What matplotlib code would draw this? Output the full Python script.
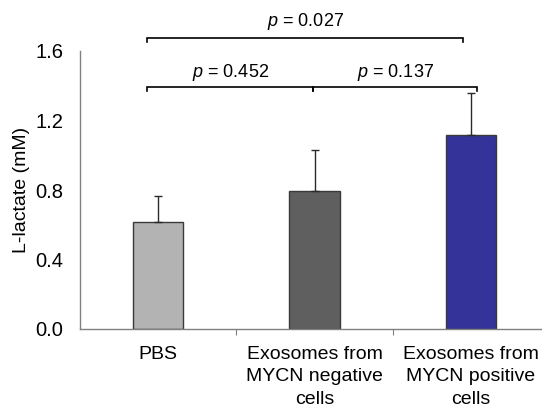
import matplotlib
matplotlib.use("Agg")
import matplotlib.pyplot as plt

plt.rcParams['font.family'] = ['Liberation Sans', 'DejaVu Sans']
plt.rcParams['mathtext.fontset'] = 'custom'
plt.rcParams['mathtext.it'] = 'Liberation Sans:italic'
plt.rcParams['mathtext.rm'] = 'Liberation Sans'

categories = ["PBS", "Exosomes from\nMYCN negative\ncells", "Exosomes from\nMYCN positive\ncells"]
values = [0.617, 0.796, 1.114]
errors = [0.150, 0.234, 0.243]
colors = ["#b3b3b3", "#5f5f5f", "#333399"]
yticks = [0.0, 0.4, 0.8, 1.2, 1.6]
comparisons = [(0, 2, "0.027"), (0, 1, "0.452"), (1, 2, "0.137")]

fig = plt.figure(figsize=(5.42, 4.07), dpi=100)
ax = fig.add_axes([80/542, 1-329/407, 1-80/542, (329-51)/407])

x = list(range(len(categories)))
ax.bar(x, values, width=0.32, color=colors, edgecolor="#3a3a3a", linewidth=1.0, zorder=2)
ax.errorbar(x, values, yerr=[[0]*3, errors], fmt="none", ecolor="#2a2a2a",
            elinewidth=1.0, capsize=3, capthick=1.0, zorder=3)

ax.set_xlim(-0.5, (542-159)/156)
ax.set_ylim(0, 1.6)
ax.set_yticks(yticks)
ax.set_yticklabels([f"{v:.1f}" for v in yticks], fontsize=14.5)
ax.tick_params(axis='y', length=0, pad=12)
ax.set_xticks([0.5, 1.5])
ax.set_xticklabels([])
ax.tick_params(axis='x', length=4, color="#808080", direction='out')
for i, c in enumerate(categories):
    ax.text(i, -0.095, c, ha='center', va='top', fontsize=14, linespacing=1.45,
            transform=ax.transData)

for s in ['top', 'right']:
    ax.spines[s].set_visible(False)
for s in ['left', 'bottom']:
    ax.spines[s].set_color("#808080")
    ax.spines[s].set_linewidth(1.0)
ax.set_ylabel("L-lactate (mM)", fontsize=14, labelpad=4)

# brackets
tick = 0.022
def bracket(x0, x1, y, label, ty):
    ax.plot([x0, x0, x1, x1], [y - tick, y, y, y - tick], color="black", lw=1.2,
            clip_on=False, solid_joinstyle='miter')
    ax.text((x0 + x1) / 2, ty, f"$p$ = {label}", ha='center', va='center', fontsize=13)

bracket(-0.07, 1.95, 1.675, comparisons[0][2], 1.77)
bracket(-0.07, 0.99, 1.391, comparisons[1][2], 1.475)
bracket(0.99, 2.04, 1.391, comparisons[2][2], 1.475)

fig.savefig("out.png", dpi=100)
